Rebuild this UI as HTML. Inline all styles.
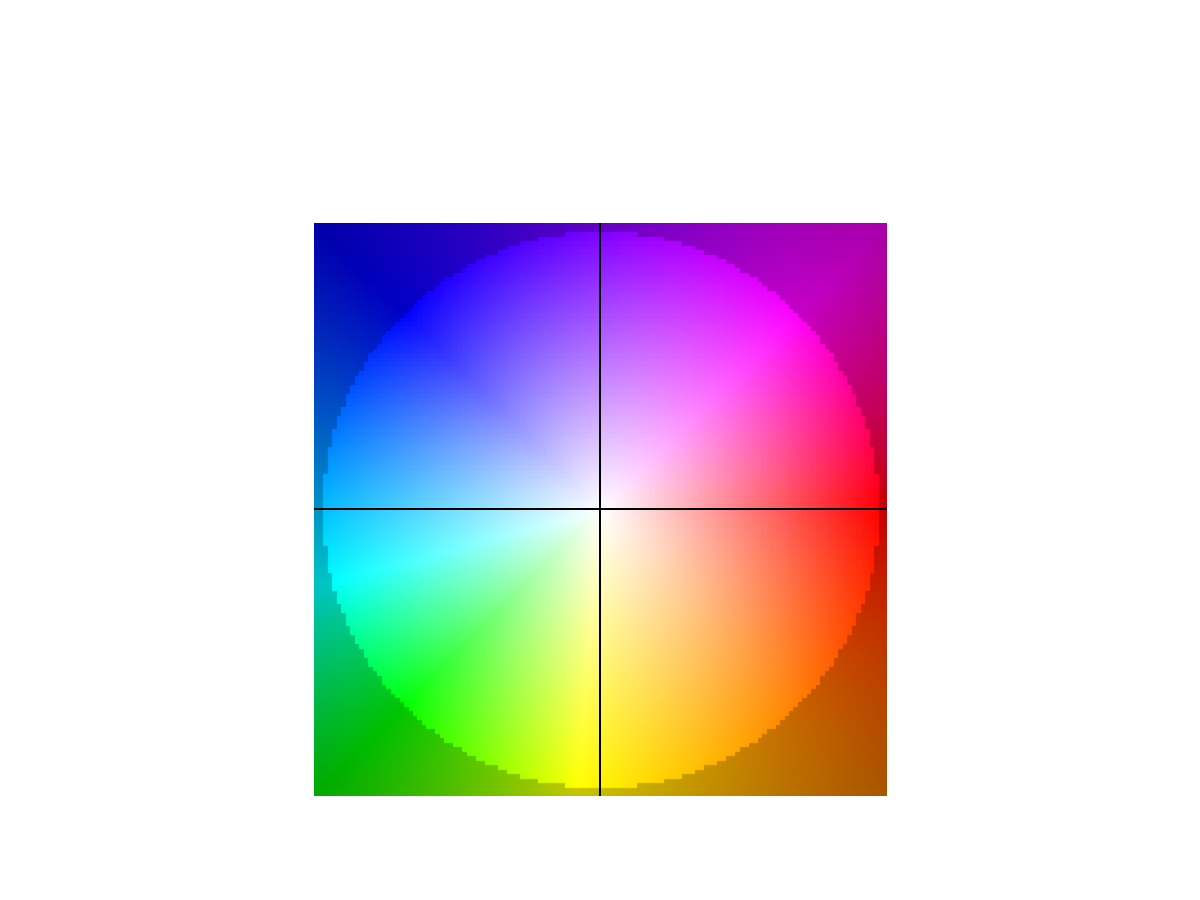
<!DOCTYPE html>
<html><head><meta charset="utf-8"><style>
html,body{margin:0;padding:0;background:#fff;width:1200px;height:900px;overflow:hidden;}
#wrap{position:absolute;left:314px;top:223px;width:573px;height:573px;}
#cv{width:573px;height:573px;display:block;}
.hl{position:absolute;left:314px;top:508px;width:573px;height:2px;background:#000;}
.vl{position:absolute;left:599px;top:223px;width:2px;height:573px;background:#000;}
</style></head><body>
<div id="wrap"><canvas id="cv" width="573" height="573"></canvas></div>
<div class="hl"></div>
<div class="vl"></div>
<script>
const angleStops = [0, 45, 90, 135, 195, 225, 265, 315, 360];
const hueStops = [0, 300, 270, 240, 180, 120, 60, 30, 0];
const innerRadius = [0.97];
const valueAtEdge = [1.0];
const valueOutsideEdge = [0.78];
const valueAtCorner = [0.66];

function hueAt(t){
  for(let i=0;i<angleStops.length-1;i++){
    if(t>=angleStops[i]&&t<=angleStops[i+1]){
      const f=(t-angleStops[i])/(angleStops[i+1]-angleStops[i]);
      let h0=hueStops[i],h1=hueStops[i+1];
      if(h1-h0>180)h0+=360; if(h0-h1>180)h1+=360;
      return ((h0+(h1-h0)*f)%360+360)%360;
    }
  }
  return 0;
}
function hsv(h,s,v){
  const c=v*s,x=c*(1-Math.abs((h/60)%2-1)),m=v-c;let r,g,b;
  if(h<60)[r,g,b]=[c,x,0];else if(h<120)[r,g,b]=[x,c,0];else if(h<180)[r,g,b]=[0,c,x];
  else if(h<240)[r,g,b]=[0,x,c];else if(h<300)[r,g,b]=[x,0,c];else [r,g,b]=[c,0,x];
  return [(r+m)*255,(g+m)*255,(b+m)*255];
}
const cv=document.getElementById('cv'),ctx=cv.getContext('2d');
const N=128,W=573,img=ctx.createImageData(W,W);
const cache={};
function cell(i,j){
  const key=j*N+i; if(cache[key])return cache[key];
  const x=(i+0.5)/N*2-1,y=1-(j+0.5)/N*2;
  const r=Math.sqrt(x*x+y*y);
  let t=Math.atan2(y,x)*180/Math.PI;if(t<0)t+=360;
  const h=hueAt(t);const R=innerRadius[0];
  let s,v;
  if(r<=R){s=Math.min(1,r/R);v=valueAtEdge[0];}
  else{s=1;v=valueOutsideEdge[0]-(valueOutsideEdge[0]-valueAtCorner[0])*Math.min(1,(r-R)/(Math.SQRT2-R));}
  return cache[key]=hsv(h,s,v);
}
for(let py=0;py<W;py++)for(let px=0;px<W;px++){
  const c=cell(Math.floor(px*N/W),Math.floor(py*N/W)),k=(py*W+px)*4;
  img.data[k]=c[0];img.data[k+1]=c[1];img.data[k+2]=c[2];img.data[k+3]=255;
}
ctx.putImageData(img,0,0);
</script>
</body></html>
